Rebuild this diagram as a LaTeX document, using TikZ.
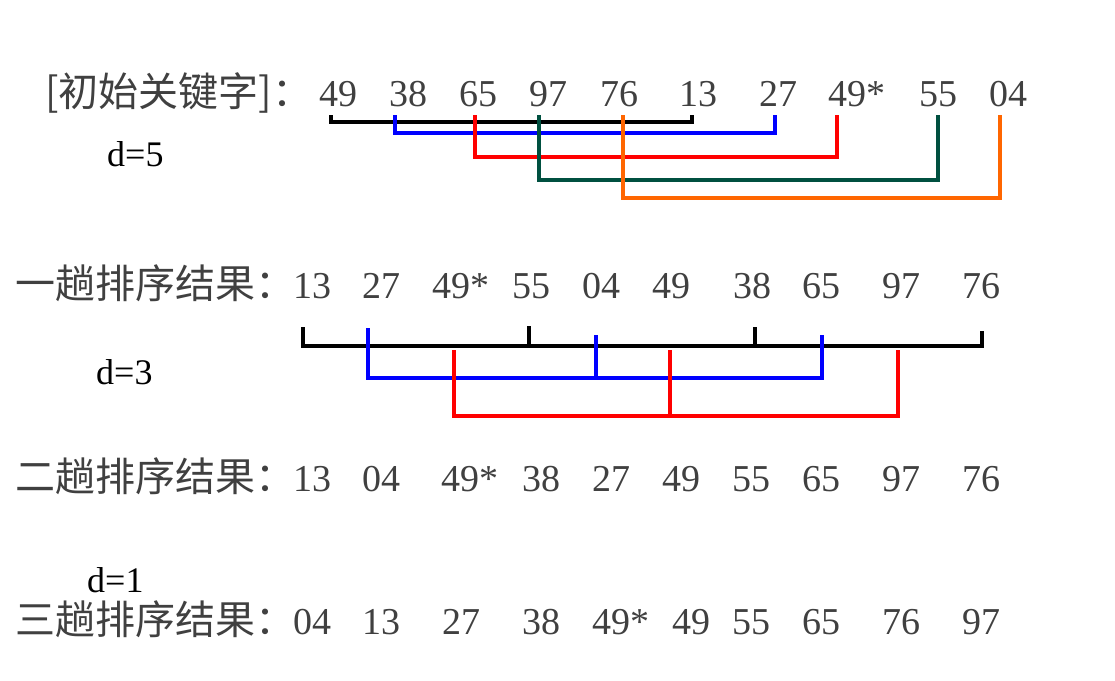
\documentclass[tikz,border=0pt]{standalone}
\usepackage{fontspec}
\setmainfont{Liberation Serif}
\newfontfamily\cjk{Noto Sans CJK SC}
\usetikzlibrary{calc}
\definecolor{numgray}{RGB}{64,64,64}
\definecolor{gapgreen}{RGB}{0,80,64}
\definecolor{gaporange}{RGB}{255,102,0}
\tikzset{ num/.style = { anchor = base % key value
        , inner sep = 0pt
        , text = numgray
        , font = \fontsize{38}{42}\selectfont
        }
        , row_title/.style = { anchor = base west % row caption
        , inner sep = 0pt
        , text = numgray
        , font = \cjk\fontsize{40}{44}\selectfont
        }
        , gap_label/.style = { anchor = base west % increment
        , inner sep = 0pt
        , font = \fontsize{36}{40}\selectfont
        }
        }

\begin{document}
\begin{tikzpicture}[x=1pt, y=-1pt,
        bracket_style/.style={draw=#1, line width=3.4pt}]
        \useasboundingbox (0,0) rectangle (1115,680);

        % row titles and increments
        \node [row_title] (t0) at (45,106) {[初始关键字]：};
        \node [row_title] (t1) at (15,298) {一趟排序结果：};
        \node [row_title] (t2) at (15,491) {二趟排序结果：};
        \node [row_title] (t3) at (15,634) {三趟排序结果：};
        \node [gap_label] (d5) at (107,166) {d=5};
        \node [gap_label] (d3) at (96,384) {d=3};
        \node [gap_label] (d1) at (87,592) {d=1};

        % keys
        \node [num] (r0n1) at (338,106) {49};
        \node [num] (r0n2) at (408,106) {38};
        \node [num] (r0n3) at (478,106) {65};
        \node [num] (r0n4) at (548,106) {97};
        \node [num] (r0n5) at (619,106) {76};
        \node [num] (r0n6) at (698,106) {13};
        \node [num] (r0n7) at (778,106) {27};
        \node [num] (r0n8) at (857,106) {49*};
        \node [num] (r0n9) at (938,106) {55};
        \node [num] (r0n10) at (1008,106) {04};

        \node [num] (r1n1) at (312,298) {13};
        \node [num] (r1n2) at (381,298) {27};
        \node [num] (r1n3) at (461,298) {49*};
        \node [num] (r1n4) at (531,298) {55};
        \node [num] (r1n5) at (601,298) {04};
        \node [num] (r1n6) at (671,298) {49};
        \node [num] (r1n7) at (752,298) {38};
        \node [num] (r1n8) at (821,298) {65};
        \node [num] (r1n9) at (901,298) {97};
        \node [num] (r1n10) at (981,298) {76};

        \node [num] (r2n1) at (312,491) {13};
        \node [num] (r2n2) at (381,491) {04};
        \node [num] (r2n3) at (470,491) {49*};
        \node [num] (r2n4) at (541,491) {38};
        \node [num] (r2n5) at (611,491) {27};
        \node [num] (r2n6) at (681,491) {49};
        \node [num] (r2n7) at (751,491) {55};
        \node [num] (r2n8) at (821,491) {65};
        \node [num] (r2n9) at (901,491) {97};
        \node [num] (r2n10) at (981,491) {76};

        \node [num] (r3n1) at (312,634) {04};
        \node [num] (r3n2) at (381,634) {13};
        \node [num] (r3n3) at (461,634) {27};
        \node [num] (r3n4) at (541,634) {38};
        \node [num] (r3n5) at (621,634) {49*};
        \node [num] (r3n6) at (691,634) {49};
        \node [num] (r3n7) at (751,634) {55};
        \node [num] (r3n8) at (821,634) {65};
        \node [num] (r3n9) at (901,634) {76};
        \node [num] (r3n10) at (981,634) {97};

        % tick tops, d=5
        \coordinate (a1) at (331,115);
        \coordinate (a2) at (395,115);
        \coordinate (a3) at (475,115);
        \coordinate (a4) at (539,115);
        \coordinate (a5) at (623,115);
        \coordinate (a6) at (692,115);
        \coordinate (a7) at (775,115);
        \coordinate (a8) at (837,115);
        \coordinate (a9) at (938,115);
        \coordinate (a10) at (1000,115);
        % tick tops, d=3
        \coordinate (b1) at (303,327);
        \coordinate (b2) at (368,328);
        \coordinate (b3) at (454,350);
        \coordinate (b4) at (529,326);
        \coordinate (b5) at (596,335);
        \coordinate (b6) at (670,350);
        \coordinate (b7) at (755,327);
        \coordinate (b8) at (822,335);
        \coordinate (b9) at (898,350);
        \coordinate (b10) at (982,331);

        \draw [bracket_style=black] (a1) -- (a1 |- 0,122) -| (a6);
        \draw [bracket_style=blue] (a2) -- (a2 |- 0,133) -| (a7);
        \draw [bracket_style=red] (a3) -- (a3 |- 0,157) -| (a8);
        \draw [bracket_style=gapgreen] (a4) -- (a4 |- 0,180) -| (a9);
        \draw [bracket_style=gaporange] (a5) -- (a5 |- 0,198) -| (a10);

        \draw [bracket_style=black] (b1) -- (b1 |- 0,346) -- (b10 |- 0,346) -- (b10)
                (b4) -- (b4 |- 0,346) (b7) -- (b7 |- 0,346);
        \draw [bracket_style=blue] (b2) -- (b2 |- 0,378) -- (b8 |- 0,378) -- (b8)
                (b5) -- (b5 |- 0,378);
        \draw [bracket_style=red] (b3) -- (b3 |- 0,416) -- (b9 |- 0,416) -- (b9)
                (b6) -- (b6 |- 0,416);
\end{tikzpicture}
\end{document}
